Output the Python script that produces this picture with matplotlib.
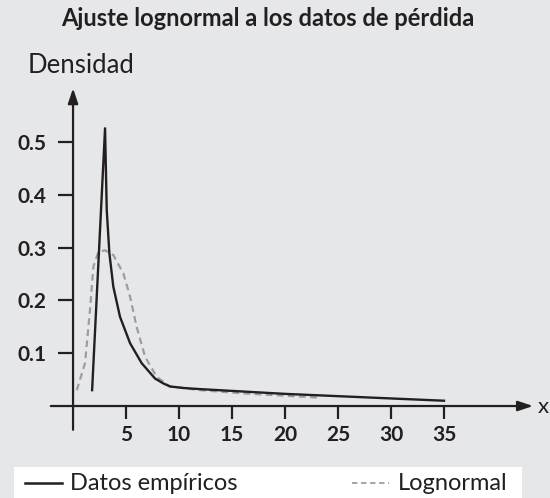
import matplotlib.pyplot as plt
from matplotlib.lines import Line2D
from matplotlib.patches import Rectangle

plt.rcParams['font.family'] = ['Lato', 'DejaVu Sans']

# datos
x_emp = [1.8, 3.02, 3.18, 3.43, 3.8, 4.43, 5.38, 6.48, 7.74, 8.5, 9.15, 10.5, 12.0, 20, 35]
y_emp = [0.03, 0.526, 0.371, 0.289, 0.226, 0.169, 0.119, 0.081, 0.052, 0.043, 0.037, 0.034, 0.032, 0.023, 0.01]
x_logn = [0.35, 1.13, 1.6, 1.92, 2.39, 3.02, 3.8, 4.75, 5.38, 6.0, 6.8, 7.9, 9.15, 12.0, 16.0, 23.1]
y_logn = [0.03, 0.081, 0.182, 0.264, 0.292, 0.295, 0.286, 0.251, 0.207, 0.15, 0.093, 0.055, 0.037, 0.03, 0.024, 0.016]
xticks = [5, 10, 15, 20, 25, 30, 35]
yticks = [0.1, 0.2, 0.3, 0.4, 0.5]

bg = '#e6e7e9'
ink = '#231f20'

fig = plt.figure(figsize=(5.5, 4.98), dpi=100, facecolor=bg)
ax = fig.add_axes([0.0904, 0.1317, 0.9, 0.7209])
ax.set_facecolor(bg)
ax.set_xlim(-2.2, 44.5)
ax.set_ylim(-0.05, 0.63)

ax.plot(x_logn, y_logn, color='#9d9d9f', lw=1.6, ls=(0, (3, 2)))
ax.plot(x_emp, y_emp, color=ink, lw=1.7)

# ejes con flechas
ax.annotate('', xy=(43.4, 0), xytext=(-2.1, 0),
            arrowprops=dict(arrowstyle='-|>,head_length=0.9,head_width=0.3', lw=1.6, color=ink, shrinkA=0, shrinkB=0))
ax.annotate('', xy=(0, 0.602), xytext=(0, -0.045),
            arrowprops=dict(arrowstyle='-|>,head_length=0.9,head_width=0.3', lw=1.6, color=ink, shrinkA=0, shrinkB=0))

for s in ax.spines.values():
    s.set_color('none')
ax.spines['bottom'].set_position(('data', 0))
ax.spines['left'].set_position(('data', 0))
ax.set_xticks(xticks)
ax.set_xticklabels([str(v) for v in xticks])
ax.set_yticks(yticks)
ax.set_yticklabels([str(v) for v in yticks])
ax.tick_params(axis='x', direction='out', length=9.5, width=1.6, color=ink, pad=4,
               labelsize=15, labelcolor=ink)
ax.tick_params(axis='y', direction='out', length=11, width=1.6, color=ink, pad=8,
               labelsize=15, labelcolor=ink)
for lab in ax.get_xticklabels() + ax.get_yticklabels():
    lab.set_fontweight('bold')

fig.text(0.487, 0.962, 'Ajuste lognormal a los datos de pérdida', ha='center', va='center',
         fontsize=17, fontweight='bold', color=ink)
fig.text(0.051, 0.869, 'Densidad', ha='left', va='center', fontsize=18.5, color=ink)
fig.text(0.978, 0.183, 'x', ha='left', va='center', fontsize=16, color=ink)

# leyenda
fig.patches.append(Rectangle((14 / 550, 0), (522 - 14) / 550, 31 / 498, transform=fig.transFigure,
                             facecolor='white', edgecolor='none'))
ly = 1 - 483 / 498
fig.lines.append(Line2D([25 / 550, 62 / 550], [ly, ly], transform=fig.transFigure, color=ink, lw=1.8))
fig.text(70 / 550, ly, 'Datos empíricos', ha='left', va='center', fontsize=17, color=ink)
fig.lines.append(Line2D([352 / 550, 389 / 550], [ly, ly], transform=fig.transFigure,
                        color='#9d9d9f', lw=1.3, ls=(0, (3, 2))))
fig.text(508 / 550, ly, 'Lognormal', ha='right', va='center', fontsize=17, color=ink)

fig.savefig('out.png', dpi=100, facecolor=bg)
